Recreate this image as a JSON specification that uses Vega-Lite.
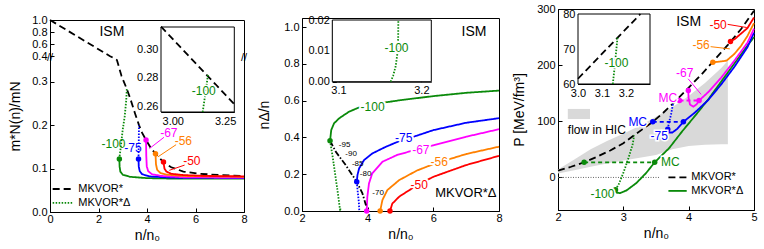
{
"$schema": "https://vega.github.io/schema/vega-lite/v6.json",
"padding": {"left": 8, "right": 2, "top": 2, "bottom": 0},
"spacing": 8,
"config": {
  "font": "Liberation Sans",
  "view": {"stroke": "black", "strokeWidth": 1},
  "axis": {"domainColor": "black", "tickColor": "black", "labelColor": "black", "titleColor": "black", "grid": false, "labelFont": "Liberation Sans", "titleFont": "Liberation Sans", "labelFontSize": 11, "titleFontSize": 14, "titleFontWeight": "normal", "tickSize": -4, "labelPadding": 7, "labelOverlap": false, "labelFlush": false, "labelBound": false},
  "axisY": {"titlePadding": 9},
  "axisX": {"labelPadding": 5},
  "text": {"font": "Liberation Sans"},
  "title": {"font": "Liberation Sans"}
},
"datasets": {
  "p1l": [
    {"n":0,"m":1.0,"c":"MKVOR*","k":"nuc"},{"n":2.46,"m":0.4,"c":"MKVOR*","k":"nuc"},{"n":2.62,"m":0.375,"c":"MKVOR*","k":"nuc"},{"n":2.76,"m":0.35,"c":"MKVOR*","k":"nuc"},{"n":2.95,"m":0.313,"c":"MKVOR*","k":"nuc"},{"n":3.17,"m":0.283,"c":"MKVOR*","k":"nuc"},{"n":3.3,"m":0.263,"c":"MKVOR*","k":"nuc"},{"n":3.5,"m":0.228,"c":"MKVOR*","k":"nuc"},{"n":3.67,"m":0.2,"c":"MKVOR*","k":"nuc"},{"n":3.8,"m":0.182,"c":"MKVOR*","k":"nuc"},{"n":3.96,"m":0.166,"c":"MKVOR*","k":"nuc"},{"n":4.15,"m":0.148,"c":"MKVOR*","k":"nuc"},{"n":4.35,"m":0.134,"c":"MKVOR*","k":"nuc"},{"n":4.68,"m":0.115,"c":"MKVOR*","k":"nuc"},{"n":5.0,"m":0.103,"c":"MKVOR*","k":"nuc"},{"n":5.5,"m":0.093,"c":"MKVOR*","k":"nuc"},{"n":6.2,"m":0.088,"c":"MKVOR*","k":"nuc"},{"n":7,"m":0.085,"c":"MKVOR*","k":"nuc"},{"n":8,"m":0.083,"c":"MKVOR*","k":"nuc"},
    {"n":3.168,"m":0.283,"c":"-100","k":"unst"},{"n":3.143,"m":0.257,"c":"-100","k":"unst"},{"n":3.08,"m":0.22,"c":"-100","k":"unst"},{"n":3.0,"m":0.19,"c":"-100","k":"unst"},{"n":2.92,"m":0.15,"c":"-100","k":"unst"},{"n":2.87,"m":0.128,"c":"-100","k":"unst"},{"n":2.86,"m":0.122,"c":"-100","k":"unst"},
    {"n":2.86,"m":0.122,"c":"-100","k":"stab"},{"n":2.87,"m":0.105,"c":"-100","k":"stab"},{"n":2.9,"m":0.093,"c":"-100","k":"stab"},{"n":3.0,"m":0.086,"c":"-100","k":"stab"},{"n":3.3,"m":0.081,"c":"-100","k":"stab"},{"n":4,"m":0.078,"c":"-100","k":"stab"},{"n":5,"m":0.077,"c":"-100","k":"stab"},{"n":8,"m":0.077,"c":"-100","k":"stab"},
    {"n":3.67,"m":0.2,"c":"-75","k":"unst"},{"n":3.66,"m":0.16,"c":"-75","k":"unst"},{"n":3.65,"m":0.122,"c":"-75","k":"unst"},
    {"n":3.65,"m":0.122,"c":"-75","k":"stab"},{"n":3.66,"m":0.105,"c":"-75","k":"stab"},{"n":3.7,"m":0.094,"c":"-75","k":"stab"},{"n":3.8,"m":0.087,"c":"-75","k":"stab"},{"n":4.1,"m":0.082,"c":"-75","k":"stab"},{"n":5,"m":0.079,"c":"-75","k":"stab"},{"n":8,"m":0.078,"c":"-75","k":"stab"},
    {"n":3.96,"m":0.166,"c":"-67","k":"stab"},{"n":3.97,"m":0.13,"c":"-67","k":"stab"},{"n":3.99,"m":0.105,"c":"-67","k":"stab"},{"n":4.05,"m":0.094,"c":"-67","k":"stab"},{"n":4.2,"m":0.087,"c":"-67","k":"stab"},{"n":4.6,"m":0.083,"c":"-67","k":"stab"},{"n":5.5,"m":0.08,"c":"-67","k":"stab"},{"n":8,"m":0.079,"c":"-67","k":"stab"},
    {"n":4.35,"m":0.134,"c":"-56","k":"stab"},{"n":4.37,"m":0.11,"c":"-56","k":"stab"},{"n":4.42,"m":0.097,"c":"-56","k":"stab"},{"n":4.55,"m":0.09,"c":"-56","k":"stab"},{"n":4.8,"m":0.086,"c":"-56","k":"stab"},{"n":5.5,"m":0.083,"c":"-56","k":"stab"},{"n":8,"m":0.081,"c":"-56","k":"stab"},
    {"n":4.68,"m":0.115,"c":"-50","k":"stab"},{"n":4.72,"m":0.1,"c":"-50","k":"stab"},{"n":4.8,"m":0.093,"c":"-50","k":"stab"},{"n":5.0,"m":0.088,"c":"-50","k":"stab"},{"n":5.5,"m":0.085,"c":"-50","k":"stab"},{"n":6.5,"m":0.083,"c":"-50","k":"stab"},{"n":8,"m":0.082,"c":"-50","k":"stab"}
  ],
  "p1p": [
    {"n":2.86,"m":0.122,"c":"-100"},{"n":3.65,"m":0.122,"c":"-75"},{"n":3.96,"m":0.166,"c":"-67"},{"n":4.35,"m":0.134,"c":"-56"},{"n":4.68,"m":0.115,"c":"-50"}
  ],
  "p1t": [
    {"n":2.62,"m":0.157,"c":"-100","t":"-100"},{"n":3.42,"m":0.148,"c":"-75","t":"-75"},{"n":4.9,"m":0.183,"c":"-67","t":"-67"},{"n":5.5,"m":0.163,"c":"-56","t":"-56"},{"n":5.85,"m":0.117,"c":"-50","t":"-50"}
  ],
  "p1a": [
    {"n":4.7,"m":0.172,"n2":4.1,"m2":0.146,"c":"-67"},{"n":5.2,"m":0.155,"n2":4.45,"m2":0.127,"c":"-56"},{"n":5.55,"m":0.108,"n2":4.92,"m2":0.096,"c":"-50"}
  ],
  "p1i": [
    {"n":2.944,"m":0.316,"c":"MKVOR*","k":"nuc"},{"n":3.294,"m":0.2615,"c":"MKVOR*","k":"nuc"},
    {"n":3.168,"m":0.282,"c":"-100","k":"unst"},{"n":3.157,"m":0.27,"c":"-100","k":"unst"},{"n":3.143,"m":0.256,"c":"-100","k":"unst"}
  ],
  "p2l": [
    {"n":2.854,"f":0.382,"c":"-100","k":"unst"},{"n":2.93,"f":0.3,"c":"-100","k":"unst"},{"n":3.01,"f":0.2,"c":"-100","k":"unst"},{"n":3.09,"f":0.1,"c":"-100","k":"unst"},{"n":3.172,"f":0.02,"c":"-100","k":"unst"},{"n":3.163,"f":0,"c":"-100","k":"unst"},
    {"n":2.854,"f":0.382,"c":"-100","k":"stab"},{"n":2.89,"f":0.44,"c":"-100","k":"stab"},{"n":2.976,"f":0.477,"c":"-100","k":"stab"},{"n":3.13,"f":0.504,"c":"-100","k":"stab"},{"n":3.43,"f":0.54,"c":"-100","k":"stab"},{"n":3.84,"f":0.571,"c":"-100","k":"stab"},{"n":4.5,"f":0.59,"c":"-100","k":"stab"},{"n":5,"f":0.603,"c":"-100","k":"stab"},{"n":6,"f":0.625,"c":"-100","k":"stab"},{"n":7,"f":0.643,"c":"-100","k":"stab"},{"n":8,"f":0.655,"c":"-100","k":"stab"},
    {"n":3.667,"f":0.159,"c":"-75","k":"unst"},{"n":3.7,"f":0.1,"c":"-75","k":"unst"},{"n":3.73,"f":0.05,"c":"-75","k":"unst"},{"n":3.745,"f":0,"c":"-75","k":"unst"},
    {"n":3.667,"f":0.159,"c":"-75","k":"stab"},{"n":3.69,"f":0.196,"c":"-75","k":"stab"},{"n":3.74,"f":0.232,"c":"-75","k":"stab"},{"n":3.89,"f":0.277,"c":"-75","k":"stab"},{"n":4.14,"f":0.313,"c":"-75","k":"stab"},{"n":4.55,"f":0.349,"c":"-75","k":"stab"},{"n":4.96,"f":0.38,"c":"-75","k":"stab"},{"n":5.5,"f":0.41,"c":"-75","k":"stab"},{"n":6,"f":0.44,"c":"-75","k":"stab"},{"n":7,"f":0.48,"c":"-75","k":"stab"},{"n":8,"f":0.505,"c":"-75","k":"stab"},
    {"n":3.97,"f":0,"c":"-67","k":"stab"},{"n":3.99,"f":0.078,"c":"-67","k":"stab"},{"n":4.04,"f":0.15,"c":"-67","k":"stab"},{"n":4.14,"f":0.205,"c":"-67","k":"stab"},{"n":4.45,"f":0.268,"c":"-67","k":"stab"},{"n":4.9,"f":0.305,"c":"-67","k":"stab"},{"n":5.5,"f":0.335,"c":"-67","k":"stab"},{"n":6,"f":0.357,"c":"-67","k":"stab"},{"n":7,"f":0.404,"c":"-67","k":"stab"},{"n":8,"f":0.445,"c":"-67","k":"stab"},
    {"n":4.38,"f":0,"c":"-56","k":"stab"},{"n":4.45,"f":0.06,"c":"-56","k":"stab"},{"n":4.6,"f":0.114,"c":"-56","k":"stab"},{"n":4.96,"f":0.168,"c":"-56","k":"stab"},{"n":5.5,"f":0.22,"c":"-56","k":"stab"},{"n":6,"f":0.255,"c":"-56","k":"stab"},{"n":7,"f":0.31,"c":"-56","k":"stab"},{"n":8,"f":0.35,"c":"-56","k":"stab"},
    {"n":4.68,"f":0,"c":"-50","k":"stab"},{"n":4.75,"f":0.04,"c":"-50","k":"stab"},{"n":4.96,"f":0.078,"c":"-50","k":"stab"},{"n":5.5,"f":0.14,"c":"-50","k":"stab"},{"n":6,"f":0.186,"c":"-50","k":"stab"},{"n":7,"f":0.25,"c":"-50","k":"stab"},{"n":8,"f":0.3,"c":"-50","k":"stab"},
    {"n":2.854,"f":0.382,"c":"MKVOR*","k":"mcl"},{"n":3.03,"f":0.322,"c":"MKVOR*","k":"mcl"},{"n":3.33,"f":0.25,"c":"MKVOR*","k":"mcl"},{"n":3.53,"f":0.196,"c":"MKVOR*","k":"mcl"},{"n":3.667,"f":0.159,"c":"MKVOR*","k":"mcl"},{"n":3.84,"f":0.096,"c":"MKVOR*","k":"mcl"},{"n":3.95,"f":0.03,"c":"MKVOR*","k":"mcl"}
  ],
  "p2p": [
    {"n":2.854,"f":0.382,"c":"-100"},{"n":3.667,"f":0.159,"c":"-75"},{"n":3.97,"f":0,"c":"-67"},{"n":4.38,"f":0,"c":"-56"},{"n":4.68,"f":0,"c":"-50"}
  ],
  "p2t": [
    {"n":4.15,"f":0.565,"c":"-100","t":"-100"},{"n":5.1,"f":0.395,"c":"-75","t":"-75"},{"n":5.62,"f":0.333,"c":"-67","t":"-67"},{"n":6.18,"f":0.266,"c":"-56","t":"-56"},{"n":5.57,"f":0.14,"c":"-50","t":"-50"}
  ],
  "p2s": [
    {"n":3.12,"f":0.36,"t":"-95"},{"n":3.32,"f":0.308,"t":"-90"},{"n":3.52,"f":0.256,"t":"-85"},{"n":3.76,"f":0.204,"t":"-80"},{"n":4.14,"f":0.1,"t":"-70"}
  ],
  "p2i": [
    {"n":3.163,"f":0,"c":"-100","k":"unst"},{"n":3.166,"f":0.002,"c":"-100","k":"unst"},{"n":3.169,"f":0.005,"c":"-100","k":"unst"},{"n":3.171,"f":0.009,"c":"-100","k":"unst"},{"n":3.172,"f":0.014,"c":"-100","k":"unst"},{"n":3.1722,"f":0.02,"c":"-100","k":"unst"}
  ],
  "p3band": [
    {"n":2.0,"lo":7,"hi":14},{"n":2.25,"lo":13,"hi":32},{"n":2.5,"lo":19,"hi":50},{"n":2.75,"lo":25,"hi":65},{"n":3.0,"lo":30,"hi":78},{"n":3.25,"lo":35,"hi":92},{"n":3.5,"lo":40,"hi":108},{"n":3.75,"lo":50,"hi":125},{"n":4.0,"lo":56,"hi":145},{"n":4.25,"lo":58,"hi":168},{"n":4.5,"lo":59,"hi":195},{"n":4.6,"lo":59,"hi":208}
  ],
  "p3l": [
    {"n":2.0,"p":12,"c":"MKVOR*","k":"nuc"},{"n":2.2,"p":19,"c":"MKVOR*","k":"nuc"},{"n":2.4,"p":27,"c":"MKVOR*","k":"nuc"},{"n":2.6,"p":37,"c":"MKVOR*","k":"nuc"},{"n":2.8,"p":48,"c":"MKVOR*","k":"nuc"},{"n":3.0,"p":61,"c":"MKVOR*","k":"nuc"},{"n":3.2,"p":78,"c":"MKVOR*","k":"nuc"},{"n":3.45,"p":99,"c":"MKVOR*","k":"nuc"},{"n":3.6,"p":114,"c":"MKVOR*","k":"nuc"},{"n":3.8,"p":136,"c":"MKVOR*","k":"nuc"},{"n":4.0,"p":160,"c":"MKVOR*","k":"nuc"},{"n":4.2,"p":184,"c":"MKVOR*","k":"nuc"},{"n":4.4,"p":210,"c":"MKVOR*","k":"nuc"},{"n":4.6,"p":236,"c":"MKVOR*","k":"nuc"},{"n":4.8,"p":264,"c":"MKVOR*","k":"nuc"},{"n":5.0,"p":297,"c":"MKVOR*","k":"nuc"},
    {"n":3.165,"p":75,"c":"-100","k":"unst"},{"n":3.145,"p":60,"c":"-100","k":"unst"},{"n":3.08,"p":35,"c":"-100","k":"unst"},{"n":3.0,"p":8,"c":"-100","k":"unst"},{"n":2.93,"p":-12,"c":"-100","k":"unst"},{"n":2.88,"p":-22,"c":"-100","k":"unst"},
    {"n":2.88,"p":-22,"c":"-100","k":"stab"},{"n":2.9,"p":-27,"c":"-100","k":"stab"},{"n":2.95,"p":-28,"c":"-100","k":"stab"},{"n":3.05,"p":-23,"c":"-100","k":"stab"},{"n":3.2,"p":-10,"c":"-100","k":"stab"},{"n":3.35,"p":8,"c":"-100","k":"stab"},{"n":3.48,"p":27,"c":"-100","k":"stab"},{"n":3.7,"p":52,"c":"-100","k":"stab"},{"n":3.9,"p":82,"c":"-100","k":"stab"},{"n":4.1,"p":110,"c":"-100","k":"stab"},{"n":4.3,"p":139,"c":"-100","k":"stab"},{"n":4.5,"p":171,"c":"-100","k":"stab"},{"n":4.7,"p":203,"c":"-100","k":"stab"},{"n":4.9,"p":235,"c":"-100","k":"stab"},{"n":5.0,"p":250,"c":"-100","k":"stab"},
    {"n":2.4,"p":27,"c":"-100","k":"mc"},{"n":3.48,"p":27,"c":"-100","k":"mc"},
    {"n":3.76,"p":131,"c":"-75","k":"unst"},{"n":3.73,"p":112,"c":"-75","k":"unst"},{"n":3.7,"p":98,"c":"-75","k":"unst"},{"n":3.68,"p":86,"c":"-75","k":"unst"},
    {"n":3.68,"p":86,"c":"-75","k":"stab"},{"n":3.7,"p":80,"c":"-75","k":"stab"},{"n":3.75,"p":80,"c":"-75","k":"stab"},{"n":3.82,"p":86,"c":"-75","k":"stab"},{"n":3.92,"p":99,"c":"-75","k":"stab"},{"n":4.1,"p":116,"c":"-75","k":"stab"},{"n":4.3,"p":138,"c":"-75","k":"stab"},{"n":4.5,"p":166,"c":"-75","k":"stab"},{"n":4.7,"p":197,"c":"-75","k":"stab"},{"n":4.9,"p":232,"c":"-75","k":"stab"},{"n":5.0,"p":258,"c":"-75","k":"stab"},
    {"n":3.45,"p":99,"c":"-75","k":"mc"},{"n":3.92,"p":99,"c":"-75","k":"mc"},
    {"n":3.995,"p":155,"c":"-67","k":"stab"},{"n":3.998,"p":142,"c":"-67","k":"stab"},{"n":4.02,"p":130,"c":"-67","k":"stab"},{"n":4.07,"p":126,"c":"-67","k":"stab"},{"n":4.12,"p":130,"c":"-67","k":"stab"},{"n":4.16,"p":137,"c":"-67","k":"stab"},{"n":4.3,"p":152,"c":"-67","k":"stab"},{"n":4.5,"p":178,"c":"-67","k":"stab"},{"n":4.7,"p":208,"c":"-67","k":"stab"},{"n":4.9,"p":240,"c":"-67","k":"stab"},{"n":5.0,"p":265,"c":"-67","k":"stab"},
    {"n":3.86,"p":137,"c":"-67","k":"mc"},{"n":4.16,"p":137,"c":"-67","k":"mc"},
    {"n":4.37,"p":205,"c":"-56","k":"stab"},{"n":4.45,"p":206,"c":"-56","k":"stab"},{"n":4.58,"p":208,"c":"-56","k":"stab"},{"n":4.7,"p":220,"c":"-56","k":"stab"},{"n":4.8,"p":234,"c":"-56","k":"stab"},{"n":4.9,"p":252,"c":"-56","k":"stab"},{"n":5.0,"p":275,"c":"-56","k":"stab"},
    {"n":4.64,"p":242,"c":"-50","k":"stab"},{"n":4.7,"p":246,"c":"-50","k":"stab"},{"n":4.8,"p":256,"c":"-50","k":"stab"},{"n":4.9,"p":266,"c":"-50","k":"stab"},{"n":5.0,"p":285,"c":"-50","k":"stab"}
  ],
  "p3p": [
    {"n":2.4,"p":27,"c":"-100"},{"n":3.48,"p":27,"c":"-100"},{"n":2.88,"p":-22,"c":"-100"},
    {"n":3.45,"p":99,"c":"-75"},{"n":3.92,"p":99,"c":"-75"},{"n":3.68,"p":86,"c":"-75"},
    {"n":3.86,"p":137,"c":"-67"},{"n":4.16,"p":137,"c":"-67"},{"n":3.995,"p":155,"c":"-67"},
    {"n":4.37,"p":205,"c":"-56"},{"n":4.64,"p":242,"c":"-50"}
  ],
  "p3t": [
    {"n":2.68,"p":-30,"c":"-100","t":"-100","s":"normal"},{"n":3.72,"p":27,"c":"-100","t":"MC","s":"italic"},
    {"n":3.22,"p":99,"c":"-75","t":"MC","s":"italic"},{"n":3.55,"p":73,"c":"-75","t":"-75","s":"normal"},
    {"n":3.68,"p":141,"c":"-67","t":"MC","s":"italic"},{"n":3.94,"p":186,"c":"-67","t":"-67","s":"normal"},
    {"n":4.19,"p":235,"c":"-56","t":"-56","s":"normal"},{"n":4.45,"p":272,"c":"-50","t":"-50","s":"normal"}
  ],
  "p3a": [
    {"n":3.99,"p":176,"n2":4.19,"p2":148,"c":"-67"},{"n":4.33,"p":233,"n2":4.63,"p2":229,"c":"-56"},{"n":4.58,"p":273,"n2":4.89,"p2":267,"c":"-50"}
  ],
  "p3i": [
    {"n":3.0,"p":61.5,"c":"MKVOR*","k":"nuc"},{"n":3.26,"p":80,"c":"MKVOR*","k":"nuc"},
    {"n":3.165,"p":73.5,"c":"-100","k":"unst"},{"n":3.16,"p":70,"c":"-100","k":"unst"},{"n":3.153,"p":65,"c":"-100","k":"unst"},{"n":3.145,"p":60,"c":"-100","k":"unst"}
  ]
},
"hconcat": [
 {"spacing": -2, "vconcat": [
 {"width": 194, "height": 1, "data": {"values": [{}]}, "mark": {"type": "text", "text": ""}, "encoding": {}, "view": {"stroke": null}},
 {
  "width": 194, "height": 192,
  "resolve": {"scale": {"x": "independent", "y": "independent"}},
  "layer": [
   {"layer": [
     {"data": {"name": "p1l"}, "mark": {"type": "line", "strokeWidth": 1.8},
      "encoding": {
        "x": {"field": "n", "type": "quantitative", "scale": {"domain": [0, 8], "nice": false, "zero": false}, "axis": {"title": "n/n₀", "values": [0, 2, 4, 6, 8], "tickCount": 20, "format": "d", "labelOverlap": false}},
        "y": {"field": "m", "type": "quantitative", "scale": {"domain": [0, 0.35, 0.4, 1.0], "range": [192, 40, 36, 0], "nice": false, "zero": false}, "axis": {"title": "m*N(n)/mN", "values": [0, 0.1, 0.2, 0.3, 0.4, 0.6, 0.8, 1.0], "tickCount": 20, "format": ".1f", "labelOverlap": false}},
        "color": {"field": "c", "type": "nominal", "scale": {"domain": ["MKVOR*", "-100", "-75", "-67", "-56", "-50"], "range": ["#000000", "#0a8a0a", "#0000ff", "#ff00ff", "#ff8000", "#ff0000"]}, "legend": null},
        "strokeDash": {"field": "k", "type": "nominal", "scale": {"domain": ["nuc", "stab", "unst", "mc", "mcl"], "range": [[7, 4], [1, 0], [1.5, 1.5], [4, 3], [6, 2, 1.5, 2]]}, "legend": null}
      }},
     {"data": {"name": "p1a"}, "mark": {"type": "rule", "strokeWidth": 1},
      "encoding": {"x": {"field": "n", "type": "quantitative"}, "y": {"field": "m", "type": "quantitative"}, "x2": {"field": "n2"}, "y2": {"field": "m2"}, "color": {"field": "c", "type": "nominal", "legend": null}}},
     {"data": {"name": "p1p"}, "mark": {"type": "point", "filled": true, "size": 30, "opacity": 1},
      "encoding": {"x": {"field": "n", "type": "quantitative"}, "y": {"field": "m", "type": "quantitative"}, "color": {"field": "c", "type": "nominal", "legend": null}}},
     {"data": {"name": "p1t"}, "mark": {"type": "text", "fontSize": 12},
      "encoding": {"x": {"field": "n", "type": "quantitative"}, "y": {"field": "m", "type": "quantitative"}, "text": {"field": "t"}, "color": {"field": "c", "type": "nominal", "legend": null}}},
     {"data": {"values": [{}]}, "mark": {"type": "text", "text": "ISM", "fontSize": 14, "color": "black"},
      "encoding": {"x": {"datum": 2.55, "type": "quantitative"}, "y": {"datum": 0.8, "type": "quantitative"}}},
     {"data": {"values": [{}]}, "mark": {"type": "text", "text": "//", "fontSize": 11, "color": "black"},
      "encoding": {"x": {"datum": 0, "type": "quantitative"}, "y": {"datum": 0.37, "type": "quantitative"}}},
     {"data": {"values": [{}]}, "mark": {"type": "text", "text": "//", "fontSize": 11, "color": "black"},
      "encoding": {"x": {"datum": 8, "type": "quantitative"}, "y": {"datum": 0.37, "type": "quantitative"}}},
     {"data": {"values": [{}]}, "mark": {"type": "rule", "strokeWidth": 1.8, "strokeDash": [7, 4], "color": "black"},
      "encoding": {"x": {"datum": 0.11, "type": "quantitative"}, "x2": {"datum": 0.94}, "y": {"datum": 0.053, "type": "quantitative"}}},
     {"data": {"values": [{}]}, "mark": {"type": "rule", "strokeWidth": 1.6, "strokeDash": [1.5, 1.5], "color": "#0a8a0a"},
      "encoding": {"x": {"datum": 0.11, "type": "quantitative"}, "x2": {"datum": 0.94}, "y": {"datum": 0.021, "type": "quantitative"}}},
     {"data": {"values": [{}]}, "mark": {"type": "text", "text": "MKVOR*", "fontSize": 11, "align": "left", "color": "black"},
      "encoding": {"x": {"datum": 1.17, "type": "quantitative"}, "y": {"datum": 0.053, "type": "quantitative"}}},
     {"data": {"values": [{}]}, "mark": {"type": "text", "text": "MKVOR*Δ", "fontSize": 11, "align": "left", "color": "black"},
      "encoding": {"x": {"datum": 1.17, "type": "quantitative"}, "y": {"datum": 0.021, "type": "quantitative"}}}
   ]},
   {"layer": [
     {"data": {"values": [{}]}, "mark": {"type": "rect", "fill": "white", "stroke": "black", "strokeWidth": 1},
      "encoding": {
        "x": {"datum": 2.944, "type": "quantitative", "scale": {"domain": [2.944, 3.294], "range": [111, 184.3], "nice": false, "zero": false}, "axis": {"orient": "bottom", "offset": -100, "values": [3.0, 3.25], "tickCount": 20, "format": ".2f", "title": null, "labelOverlap": false, "labelPadding": 7}},
        "x2": {"datum": 3.294},
        "y": {"datum": 0.256, "type": "quantitative", "scale": {"domain": [0.256, 0.3157], "range": [92, 7], "nice": false, "zero": false}, "axis": {"orient": "left", "offset": -111, "values": [0.26, 0.28, 0.30], "tickCount": 20, "format": ".2f", "title": null, "labelOverlap": false}},
        "y2": {"datum": 0.3157}}},
     {"data": {"name": "p1i"}, "mark": {"type": "line", "strokeWidth": 1.8},
      "encoding": {"x": {"field": "n", "type": "quantitative"}, "y": {"field": "m", "type": "quantitative"}, "color": {"field": "c", "type": "nominal", "legend": null}, "strokeDash": {"field": "k", "type": "nominal", "legend": null}}},
     {"data": {"values": [{}]}, "mark": {"type": "text", "text": "-100", "fontSize": 12, "color": "white", "stroke": "white", "strokeWidth": 3},
      "encoding": {"x": {"datum": 3.148, "type": "quantitative"}, "y": {"datum": 0.2705, "type": "quantitative"}}},
     {"data": {"values": [{}]}, "mark": {"type": "text", "text": "-100", "fontSize": 12, "color": "#0a8a0a"},
      "encoding": {"x": {"datum": 3.148, "type": "quantitative"}, "y": {"datum": 0.2705, "type": "quantitative"}}}
   ]}
  ]
 }]},
 {"spacing": -2, "vconcat": [
 {"width": 197, "height": 1, "data": {"values": [{}]}, "mark": {"type": "text", "text": ""}, "encoding": {}, "view": {"stroke": null}},
 {
  "width": 197, "height": 193,
  "resolve": {"scale": {"x": "independent", "y": "independent"}},
  "layer": [
   {"layer": [
     {"data": {"name": "p2l"}, "mark": {"type": "line", "strokeWidth": 1.8},
      "encoding": {
        "x": {"field": "n", "type": "quantitative", "scale": {"domain": [2, 8], "nice": false, "zero": false}, "axis": {"title": "n/n₀", "values": [2, 4, 6, 8], "tickCount": 20, "format": "d", "labelOverlap": false}},
        "y": {"field": "f", "type": "quantitative", "scale": {"domain": [0, 1.05], "nice": false, "zero": false}, "axis": {"title": "nΔ/n", "values": [0, 0.2, 0.4, 0.6, 0.8, 1.0], "tickCount": 20, "format": ".1f", "labelOverlap": false, "titlePadding": 12}},
        "color": {"field": "c", "type": "nominal", "legend": null},
        "strokeDash": {"field": "k", "type": "nominal", "legend": null}
      }},
     {"data": {"name": "p2p"}, "mark": {"type": "point", "filled": true, "size": 30, "opacity": 1},
      "encoding": {"x": {"field": "n", "type": "quantitative"}, "y": {"field": "f", "type": "quantitative"}, "color": {"field": "c", "type": "nominal", "legend": null}}},
     {"data": {"name": "p2t"}, "mark": {"type": "text", "fontSize": 12, "fill": "white", "stroke": "white", "strokeWidth": 4},
      "encoding": {"x": {"field": "n", "type": "quantitative"}, "y": {"field": "f", "type": "quantitative"}, "text": {"field": "t"}}},
     {"data": {"name": "p2t"}, "mark": {"type": "text", "fontSize": 12},
      "encoding": {"x": {"field": "n", "type": "quantitative"}, "y": {"field": "f", "type": "quantitative"}, "text": {"field": "t"}, "color": {"field": "c", "type": "nominal", "legend": null}}},
     {"data": {"name": "p2s"}, "mark": {"type": "text", "fontSize": 8, "align": "left", "color": "black"},
      "encoding": {"x": {"field": "n", "type": "quantitative"}, "y": {"field": "f", "type": "quantitative"}, "text": {"field": "t"}}},
     {"data": {"values": [{}]}, "mark": {"type": "text", "text": "ISM", "fontSize": 14, "color": "black"},
      "encoding": {"x": {"datum": 7.24, "type": "quantitative"}, "y": {"datum": 0.975, "type": "quantitative"}}},
     {"data": {"values": [{}]}, "mark": {"type": "text", "text": "MKVOR*Δ", "fontSize": 13, "color": "black"},
      "encoding": {"x": {"datum": 6.99, "type": "quantitative"}, "y": {"datum": 0.096, "type": "quantitative"}}}
   ]},
   {"layer": [
     {"data": {"values": [{}]}, "mark": {"type": "rect", "fill": "white", "stroke": "black", "strokeWidth": 1},
      "encoding": {
        "x": {"datum": 3.0925, "type": "quantitative", "scale": {"domain": [3.0925, 3.212], "range": [30.3, 129.3], "nice": false, "zero": false}, "axis": {"orient": "bottom", "offset": -129.3, "values": [3.1, 3.2], "tickCount": 20, "format": ".1f", "title": null, "labelOverlap": false, "labelPadding": 7}},
        "x2": {"datum": 3.212},
        "y": {"datum": 0, "type": "quantitative", "scale": {"domain": [0, 0.02], "range": [63.7, 2], "nice": false, "zero": false}, "axis": {"orient": "left", "offset": -30.3, "values": [0, 0.01, 0.02], "tickCount": 20, "format": ".2f", "title": null, "labelOverlap": false}},
        "y2": {"datum": 0.02}}},
     {"data": {"name": "p2i"}, "mark": {"type": "line", "strokeWidth": 1.8},
      "encoding": {"x": {"field": "n", "type": "quantitative"}, "y": {"field": "f", "type": "quantitative"}, "color": {"field": "c", "type": "nominal", "legend": null}, "strokeDash": {"field": "k", "type": "nominal", "legend": null}}},
     {"data": {"values": [{}]}, "mark": {"type": "text", "text": "-100", "fontSize": 12, "color": "white", "stroke": "white", "strokeWidth": 3},
      "encoding": {"x": {"datum": 3.17, "type": "quantitative"}, "y": {"datum": 0.011, "type": "quantitative"}}},
     {"data": {"values": [{}]}, "mark": {"type": "text", "text": "-100", "fontSize": 12, "color": "#0a8a0a"},
      "encoding": {"x": {"datum": 3.17, "type": "quantitative"}, "y": {"datum": 0.011, "type": "quantitative"}}}
   ]}
  ]
 }]},
 {
  "width": 196, "height": 201,
  "resolve": {"scale": {"x": "independent", "y": "independent"}},
  "layer": [
   {"layer": [
     {"data": {"name": "p3band"}, "mark": {"type": "area", "color": "#d9d9d9"},
      "encoding": {
        "x": {"field": "n", "type": "quantitative", "scale": {"domain": [2, 5], "nice": false, "zero": false}, "axis": {"title": "n/n₀", "values": [2, 3, 4, 5], "tickCount": 20, "format": "d", "labelOverlap": false}},
        "y": {"field": "lo", "type": "quantitative", "scale": {"domain": [-58, 300], "nice": false, "zero": false}, "axis": {"title": "P [MeV/fm³]", "values": [0, 100, 200, 300], "tickCount": 20, "format": "d", "labelOverlap": false, "titlePadding": 10}},
        "y2": {"field": "hi"}
      }},
     {"data": {"values": [{}]}, "mark": {"type": "rule", "strokeWidth": 1, "strokeDash": [1, 1.5], "color": "#666666"},
      "encoding": {"x": {"datum": 2, "type": "quantitative"}, "x2": {"datum": 3.55}, "y": {"datum": 0, "type": "quantitative"}}},
     {"data": {"name": "p3l"}, "mark": {"type": "line", "strokeWidth": 1.8},
      "encoding": {"x": {"field": "n", "type": "quantitative"}, "y": {"field": "p", "type": "quantitative"}, "color": {"field": "c", "type": "nominal", "legend": null}, "strokeDash": {"field": "k", "type": "nominal", "legend": null}}},
     {"data": {"name": "p3a"}, "mark": {"type": "rule", "strokeWidth": 1},
      "encoding": {"x": {"field": "n", "type": "quantitative"}, "y": {"field": "p", "type": "quantitative"}, "x2": {"field": "n2"}, "y2": {"field": "p2"}, "color": {"field": "c", "type": "nominal", "legend": null}}},
     {"data": {"name": "p3p"}, "mark": {"type": "point", "filled": true, "size": 30, "opacity": 1},
      "encoding": {"x": {"field": "n", "type": "quantitative"}, "y": {"field": "p", "type": "quantitative"}, "color": {"field": "c", "type": "nominal", "legend": null}}},
     {"data": {"name": "p3t"}, "mark": {"type": "text", "fontSize": 12, "fill": "white", "stroke": "white", "strokeWidth": 3},
      "encoding": {"x": {"field": "n", "type": "quantitative"}, "y": {"field": "p", "type": "quantitative"}, "text": {"field": "t"}, "fontStyle": {"field": "s", "type": "nominal", "scale": null}}},
     {"data": {"name": "p3t"}, "mark": {"type": "text", "fontSize": 12},
      "encoding": {"x": {"field": "n", "type": "quantitative"}, "y": {"field": "p", "type": "quantitative"}, "text": {"field": "t"}, "color": {"field": "c", "type": "nominal", "legend": null}, "fontStyle": {"field": "s", "type": "nominal", "scale": null}}},
     {"data": {"values": [{}]}, "mark": {"type": "text", "text": "ISM", "fontSize": 14, "color": "black"},
      "encoding": {"x": {"datum": 4.0, "type": "quantitative"}, "y": {"datum": 276, "type": "quantitative"}}},
     {"data": {"values": [{}]}, "mark": {"type": "rect", "color": "#d9d9d9"},
      "encoding": {"x": {"datum": 2.15, "type": "quantitative"}, "x2": {"datum": 2.49}, "y": {"datum": 104, "type": "quantitative"}, "y2": {"datum": 122}}},
     {"data": {"values": [{}]}, "mark": {"type": "text", "text": "flow in HIC", "fontSize": 12, "align": "left", "color": "black"},
      "encoding": {"x": {"datum": 2.15, "type": "quantitative"}, "y": {"datum": 84, "type": "quantitative"}}},
     {"data": {"values": [{}]}, "mark": {"type": "rule", "strokeWidth": 1.8, "strokeDash": [7, 4], "color": "black"},
      "encoding": {"x": {"datum": 3.69, "type": "quantitative"}, "x2": {"datum": 3.97}, "y": {"datum": 0, "type": "quantitative"}}},
     {"data": {"values": [{}]}, "mark": {"type": "rule", "strokeWidth": 1.8, "color": "#0a8a0a"},
      "encoding": {"x": {"datum": 3.69, "type": "quantitative"}, "x2": {"datum": 3.97}, "y": {"datum": -24, "type": "quantitative"}}},
     {"data": {"values": [{}]}, "mark": {"type": "text", "text": "MKVOR*", "fontSize": 11, "align": "left", "color": "black"},
      "encoding": {"x": {"datum": 4.04, "type": "quantitative"}, "y": {"datum": 0, "type": "quantitative"}}},
     {"data": {"values": [{}]}, "mark": {"type": "text", "text": "MKVOR*Δ", "fontSize": 11, "align": "left", "color": "black"},
      "encoding": {"x": {"datum": 4.04, "type": "quantitative"}, "y": {"datum": -24, "type": "quantitative"}}}
   ]},
   {"layer": [
     {"data": {"values": [{}]}, "mark": {"type": "rect", "fill": "white", "stroke": "black", "strokeWidth": 1},
      "encoding": {
        "x": {"datum": 3.0, "type": "quantitative", "scale": {"domain": [3.0, 3.3], "range": [20, 92], "nice": false, "zero": false}, "axis": {"orient": "bottom", "offset": -126, "values": [3.0, 3.1, 3.2], "tickCount": 20, "format": ".1f", "title": null, "labelOverlap": false, "labelPadding": 7}},
        "x2": {"datum": 3.3},
        "y": {"datum": 60, "type": "quantitative", "scale": {"domain": [60, 80], "range": [75, 5], "nice": false, "zero": false}, "axis": {"orient": "left", "offset": -20, "values": [60, 70, 80], "tickCount": 20, "format": "d", "title": null, "labelOverlap": false}},
        "y2": {"datum": 80}}},
     {"data": {"name": "p3i"}, "mark": {"type": "line", "strokeWidth": 1.8},
      "encoding": {"x": {"field": "n", "type": "quantitative"}, "y": {"field": "p", "type": "quantitative"}, "color": {"field": "c", "type": "nominal", "legend": null}, "strokeDash": {"field": "k", "type": "nominal", "legend": null}}},
     {"data": {"values": [{}]}, "mark": {"type": "text", "text": "-100", "fontSize": 12, "color": "white", "stroke": "white", "strokeWidth": 3},
      "encoding": {"x": {"datum": 3.16, "type": "quantitative"}, "y": {"datum": 66, "type": "quantitative"}}},
     {"data": {"values": [{}]}, "mark": {"type": "text", "text": "-100", "fontSize": 12, "color": "#0a8a0a"},
      "encoding": {"x": {"datum": 3.16, "type": "quantitative"}, "y": {"datum": 66, "type": "quantitative"}}}
   ]}
  ]
 }
]
}
